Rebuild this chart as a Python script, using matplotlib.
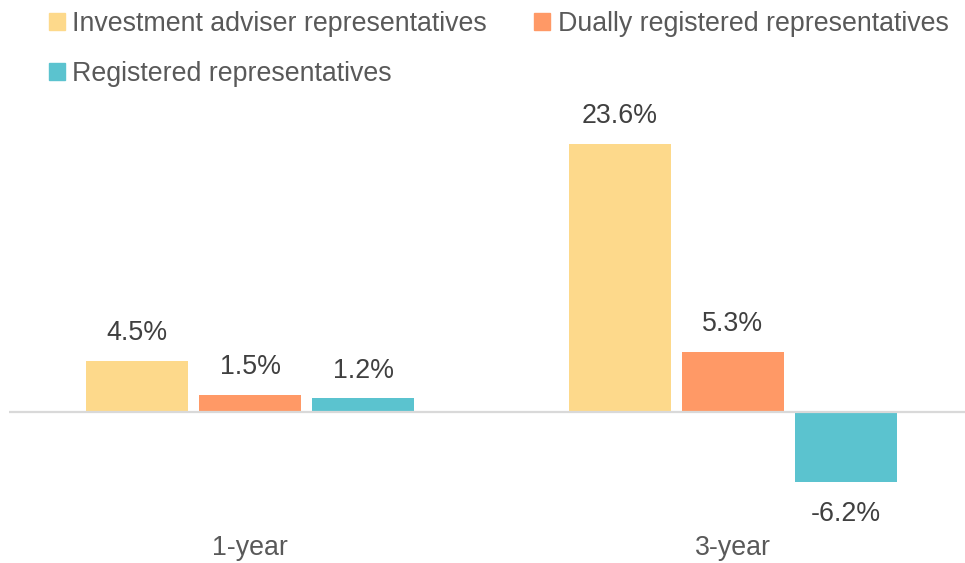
import matplotlib.pyplot as plt
import numpy as np
from matplotlib.patches import Patch

plt.rcParams['font.family'] = ['Liberation Sans', 'DejaVu Sans']

periods = ['1-year', '3-year']
series = ['Investment adviser representatives', 'Dually registered representatives',
          'Registered representatives']
ia_vals = [4.5, 23.6]
dual_vals = [1.5, 5.3]
rr_vals = [1.2, -6.2]
colors = ['#FDD98B', '#FF9966', '#5BC3CF']

fig = plt.figure(figsize=(9.65, 5.63), dpi=100)
# axes placed in pixel terms: x from 8.5 to 974.5, y zero line at 412 px from top
ax = fig.add_axes([8.5 / 965, 37.5 / 563, 966 / 965, 408.6 / 563])

x = np.arange(len(periods))
width = 0.211
offset = 0.234
for i, (vals, col) in enumerate(zip([ia_vals, dual_vals, rr_vals], colors)):
    pos = x + (i - 1) * offset
    bars = ax.bar(pos, vals, width=width, color=col, zorder=2)
    for b, v in zip(bars, vals):
        dy = 20 if v >= 0 else -23
        ax.annotate(f'{v:.1f}%', (b.get_x() + b.get_width() / 2, v),
                    xytext=(0, dy), textcoords='offset points',
                    ha='center', va='center', fontsize=19.3, color='#404040')

ax.axhline(0, color='#D9D9D9', lw=1.6, zorder=3)
ax.set_xlim(-0.5, 1.5)
ax.set_ylim(-10, 26)
ax.set_xticks(x)
ax.set_xticklabels(periods, fontsize=19.3, color='#595959')
ax.tick_params(axis='x', length=0, pad=7)
ax.set_yticks([])
for s in ax.spines.values():
    s.set_visible(False)

handles = [Patch(color=colors[0]), Patch(color=colors[2]), Patch(color=colors[1])]
labels = [series[0], series[2], series[1]]
fig.legend(handles, labels, ncol=2, loc='upper left',
           bbox_to_anchor=(30 / 965, 1 + 8 / 563), frameon=False,
           fontsize=19.3, labelcolor='#595959',
           handlelength=0.6, handleheight=0.6, handletextpad=0.28,
           columnspacing=1.75, labelspacing=0.9, borderpad=0.2)

fig.savefig('out.png', dpi=100)
